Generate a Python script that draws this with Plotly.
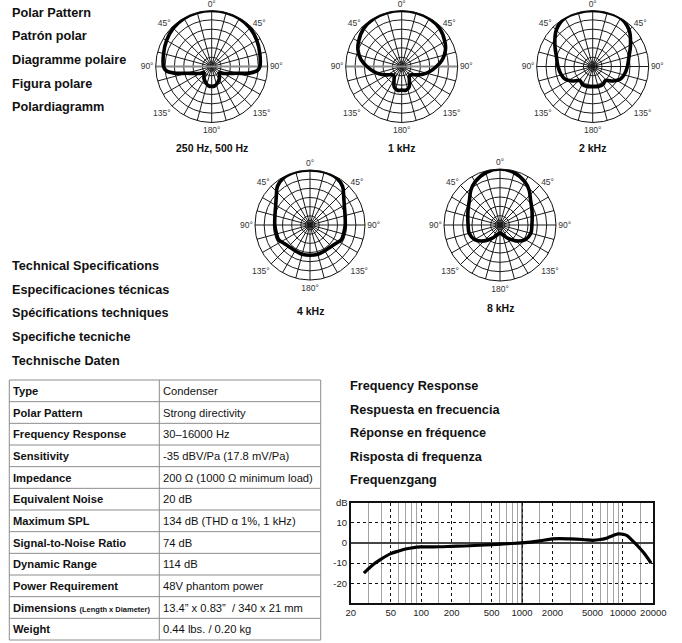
import plotly.graph_objects as go

W, H = 682, 643
FONT = "Liberation Sans, Arial, Helvetica, sans-serif"

# ---------------- data ----------------
polar_titles = ["250 Hz, 500 Hz", "1 kHz", "2 kHz", "4 kHz", "8 kHz"]

# half patterns (0..180 deg, mirrored), level in dB relative to on-axis (0 dB = outer ring)
p250_angles = [0, 15, 30, 45, 60, 75, 90, 95, 100, 105, 110, 120, 128, 137, 147, 159, 171, 180]
p250_db = [0, 0, -0.3, -0.9, -2.1, -3.3, -4.2, -5.4, -9.6, -15.9, -19.2, -22.5, -24.6, -24.0, -22.4, -20.9, -19.5, -19.3]

p1k_angles = [0, 15, 30, 45, 60, 70, 80, 90, 100, 110, 120, 130, 140, 150, 160, 170, 180]
p1k_db = [0, 0, -0.3, -1.2, -3.3, -5.1, -7.8, -11.4, -14.7, -18.0, -21.0, -23.1, -23.6, -21.8, -18.3, -17.1, -17.4]

p2k_angles = [0, 15, 30, 45, 60, 75, 90, 105, 115, 125, 138, 150, 165, 180]
p2k_db = [0, 0, 0, -2.4, -6.6, -9.9, -11.4, -12.6, -13.8, -16.5, -19.8, -18.9, -18.9, -19.2]

p4k_angles = [0, 15, 30, 40, 50, 60, 75, 90, 105, 115, 125, 135, 150, 165, 180]
p4k_db = [0, 0, -0.6, -2.4, -6.0, -8.4, -10.2, -10.8, -11.1, -11.1, -12.6, -13.5, -13.8, -13.5, -13.5]

p8k_angles = [0, 15, 30, 40, 50, 65, 90, 105, 120, 135, 150, 165, 180]
p8k_db = [0, -0.9, -3.3, -5.7, -8.7, -11.1, -12.9, -12.9, -14.4, -18.0, -21.9, -24.6, -25.8]

ring_db = [-25, -20, -15, -10, -5]
center_ring_db = -27.5
angle_tick_vals = list(range(0, 360, 15))
angle_tick_labels = {0: "0°", 45: "45°", 90: "90°", 135: "135°", 180: "180°",
                     225: "135°", 270: "90°", 315: "45°"}

spec_names = ["Type", "Polar Pattern", "Frequency Response", "Sensitivity", "Impedance",
              "Equivalent Noise", "Maximum SPL", "Signal-to-Noise Ratio", "Dynamic Range",
              "Power Requirement", "Dimensions", "Weight"]
spec_notes = {"Dimensions": "(Length x Diameter)"}
spec_values = ["Condenser", "Strong directivity", "30–16000 Hz", "-35 dBV/Pa (17.8 mV/Pa)",
               "200 Ω (1000 Ω minimum load)", "20 dB", "134 dB (THD α 1%, 1 kHz)", "74 dB",
               "114 dB", "48V phantom power", "13.4” x 0.83”  / 340 x 21 mm", "0.44 lbs. / 0.20 kg"]

fr_freq = [27, 30, 35, 40, 50, 60, 70, 80, 100, 150, 200, 300, 500, 700, 1000, 1500, 2000, 3000,
           4000, 5000, 6000, 7000, 8000, 9000, 10000, 11000, 12500, 14000, 16000, 19000]
fr_db = [-15, -12.8, -10, -8, -5.3, -4, -3, -2.5, -2, -1.9, -1.7, -1.4, -0.8, -0.4, 0, 1, 2, 2,
         1.7, 1.3, 1.7, 2.5, 3.7, 4.5, 4.3, 3.6, 1, -1.5, -4.8, -10]
fr_major_ticks = [20, 50, 100, 200, 500, 1000, 2000, 5000, 10000, 20000]
fr_minor_ticks = [30, 40, 60, 70, 80, 90, 150, 300, 400, 600, 700, 800, 900, 1500,
                  3000, 4000, 6000, 7000, 8000, 9000, 15000]
fr_y_ticks = [-20, -10, 0, 10]

heading_polar = ["Polar Pattern", "Patrón polar", "Diagramme polaire", "Figura polare", "Polardiagramm"]
heading_specs = ["Technical Specifications", "Especificaciones técnicas", "Spécifications techniques",
                 "Specifiche tecniche", "Technische Daten"]
heading_fr = ["Frequency Response", "Respuesta en frecuencia", "Réponse en fréquence",
              "Risposta di frequenza", "Frequenzgang"]

# ---------------- layout helpers ----------------
def px_x(x):
    return x / W

def px_y(y):
    return 1 - y / H

def mirror(angles, vals):
    a = list(angles) + [360 - v for v in reversed(angles[:-1])]
    r = list(vals) + list(reversed(vals[:-1]))
    return a, r

fig = go.Figure()

polar_specs = [
    (p250_angles, p250_db, 211.7, 66.5, 56, True, 148),
    (p1k_angles, p1k_db, 401.7, 66.5, 56, True, 148),
    (p2k_angles, p2k_db, 592.7, 66.5, 56, False, 148),
    (p4k_angles, p4k_db, 310, 225, 55, False, 311),
    (p8k_angles, p8k_db, 500, 225, 56, False, 308),
]

annotations = []
shapes = []
for i, (ang, db, cx, cy, R, gray_axis, ly) in enumerate(polar_specs):
    name = "polar" if i == 0 else f"polar{i+1}"
    fig.update_layout(**{name: dict(
        domain=dict(x=[px_x(cx - R), px_x(cx + R)], y=[px_y(cy + R), px_y(cy - R)]),
        bgcolor="white",
        radialaxis=dict(range=[-30, 0], tickmode="array", tickvals=ring_db, showticklabels=False,
                        ticks="", showline=False, gridcolor="#1a1a1a", gridwidth=0.8),
        angularaxis=dict(rotation=90, direction="clockwise", tickmode="array",
                         tickvals=angle_tick_vals,
                         ticktext=[angle_tick_labels.get(v, "") for v in angle_tick_vals],
                         ticks="", showline=True, linecolor="#111", linewidth=1,
                         gridcolor="#1a1a1a", gridwidth=0.8,
                         tickfont=dict(family=FONT, size=8.5, color="#333")),
    )})
    fig.add_trace(go.Scatterpolar(r=[center_ring_db] * 25, theta=list(range(0, 361, 15)),
                                  mode="lines", line=dict(color="#1a1a1a", width=0.8),
                                  subplot=name, showlegend=False, hoverinfo="skip"))
    if gray_axis:
        fig.add_trace(go.Scatterpolar(r=[0, 0], theta=[90, 270], mode="lines",
                                      line=dict(color="#8a8a8a", width=2.2),
                                      subplot=name, showlegend=False, hoverinfo="skip"))
    a, r = mirror(ang, db)
    fig.add_trace(go.Scatterpolar(r=r, theta=a, mode="lines",
                                  line=dict(color="black", width=3.6, shape="spline"),
                                  subplot=name, showlegend=False))
    annotations.append(dict(x=px_x(cx), y=px_y(ly), xref="paper", yref="paper",
                            text=polar_titles[i], showarrow=False, xanchor="center", yanchor="middle",
                            font=dict(family=FONT, size=10.5, color="#111", weight="bold")))

# headings
def heading(x, y, t):
    annotations.append(dict(x=px_x(x), y=px_y(y), xref="paper", yref="paper", text=t,
                            showarrow=False, xanchor="left", yanchor="middle",
                            font=dict(family=FONT, size=12.7, color="#111", weight="bold")))

for k, t in enumerate(heading_polar):
    heading(10, [12.7, 36, 60.3, 83.5, 107.3][k], t)
for k, t in enumerate(heading_specs):
    heading(10, [266, 290, 313.3, 337.3, 360.7][k], t)
for k, t in enumerate(heading_fr):
    heading(348, [386, 410, 433.3, 456.7, 480][k], t)

# ---------------- table (grid + text) ----------------
T_L, T_R, T_M, T_T, T_B = 9.3, 320.7, 159.3, 380, 640
n_rows = len(spec_names)
row_h = (T_B - T_T) / n_rows
line_style = dict(color="#8c8c8c", width=1)
for k in range(n_rows + 1):
    yy = px_y(T_T + k * row_h)
    shapes.append(dict(type="line", xref="paper", yref="paper", x0=px_x(T_L), x1=px_x(T_R),
                       y0=yy, y1=yy, line=line_style))
for xx in (T_L, T_M, T_R):
    shapes.append(dict(type="line", xref="paper", yref="paper", x0=px_x(xx), x1=px_x(xx),
                       y0=px_y(T_T), y1=px_y(T_B), line=line_style))
for k, (n, v) in enumerate(zip(spec_names, spec_values)):
    yc = px_y(T_T + (k + 0.5) * row_h)
    label = f"<b>{n}</b>"
    if n in spec_notes:
        label += f" <span style='font-size:7.5px'><b>{spec_notes[n]}</b></span>"
    annotations.append(dict(x=px_x(T_L + 2), y=yc, xref="paper", yref="paper", text=label,
                            showarrow=False, xanchor="left", yanchor="middle",
                            font=dict(family=FONT, size=11.2, color="#111")))
    annotations.append(dict(x=px_x(T_M + 2), y=yc, xref="paper", yref="paper", text=v,
                            showarrow=False, xanchor="left", yanchor="middle",
                            font=dict(family=FONT, size=11.2, color="#111")))

# ---------------- frequency response ----------------
fig.add_trace(go.Scatter(x=[1000, 1000], y=[-30, 20], mode="lines", line=dict(color="#222", width=1.3),
                         showlegend=False, hoverinfo="skip"))
fig.add_trace(go.Scatter(x=fr_freq, y=fr_db, mode="lines", line=dict(color="black", width=3.2, shape="spline"),
                         showlegend=False))

fig.update_layout(
    xaxis=dict(domain=[px_x(350.7), px_x(653.3)], type="log", range=[1.30103, 4.30103],
               automargin=False,
               tickmode="array", tickvals=fr_major_ticks, ticktext=[str(v) for v in fr_major_ticks],
               showgrid=True, gridcolor="#111", griddash="dot", gridwidth=1,
               minor=dict(tickmode="array", tickvals=fr_minor_ticks, showgrid=True,
                          gridcolor="#a3a3a3", gridwidth=1.4, griddash="solid", ticks=""),
               showline=True, linecolor="#111", linewidth=1.5, mirror=True, ticks="", zeroline=False,
               tickfont=dict(family=FONT, size=9.5, color="#222")),
    yaxis=dict(domain=[px_y(603.3), px_y(502.7)], range=[-30, 20], tickmode="array",
               automargin=False,
               tickvals=fr_y_ticks, ticktext=[str(v) for v in fr_y_ticks],
               showgrid=True, gridcolor="#111", griddash="dot", gridwidth=1,
               zeroline=True, zerolinecolor="#444", zerolinewidth=1.6,
               showline=True, linecolor="#111", linewidth=1.5, mirror=True, ticks="",
               tickfont=dict(family=FONT, size=9.5, color="#222")),
)
annotations.append(dict(x=0, y=1, xref="x domain", yref="y domain", text="dB", showarrow=False,
                        xanchor="right", yanchor="middle", xshift=-1,
                        font=dict(family=FONT, size=9.5, color="#222")))

fig.update_layout(template="none", width=W, height=H, autosize=False,
                  margin=dict(l=0, r=0, t=0, b=0, pad=0),
                  paper_bgcolor="white", plot_bgcolor="white", showlegend=False,
                  annotations=annotations, shapes=shapes, font=dict(family=FONT))

fig.write_html("out.html", config={"responsive": False, "displayModeBar": False},
               post_script="document.body.style.margin='0px';document.body.style.overflow='hidden';")
